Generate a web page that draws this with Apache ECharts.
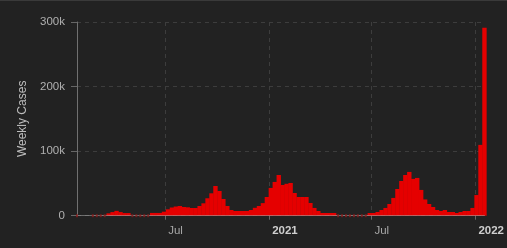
<!DOCTYPE html>
<html>
<head>
<meta charset="utf-8">
<script src="https://cdn.jsdelivr.net/npm/echarts@6/dist/echarts.min.js"></script>
<style>
html,body{margin:0;padding:0;background:#222222;}
#c{width:507px;height:248px;}
#topline{position:absolute;left:0;top:0;width:507px;height:1px;background:#3a3a3a;}
</style>
</head>
<body>
<div id="c"></div>
<div id="topline"></div>
<script>
// Weekly case counts (thousands), one bar per week starting at firstWeek
const firstWeek = Date.UTC(2020, 0, 27);
const weeklyCasesK = [
  0, null, null, null, 0, 0, 0, 0, 3.7, 5.6,
  7.5, 5.6, 4.1, 4.1, 0, 0, 0, 0, 0, 4.3,
  4.3, 4.3, 6.2, 9.9, 12.7, 14.2, 15.0, 13.5, 13.0, 11.9,
  11.9, 15.0, 19.2, 27.0, 34.7, 46.0, 38.3, 25.9, 15.0, 8.8,
  7.3, 7.3, 7.3, 7.3, 8.8, 12.2, 15.0, 19.5, 29.0, 43.0,
  52.3, 63.0, 47.6, 49.4, 50.7, 35.2, 29.0, 29.0, 29.0, 19.7,
  12.0, 7.3, 4.2, 4.2, 4.2, 4.2, 0, 0, 0, 0,
  0, 0, 0, 0, 4.2, 4.2, 5.7, 8.8, 12.0, 18.1,
  27.5, 41.4, 53.8, 63.0, 67.8, 57.0, 58.5, 39.9, 25.2, 18.1,
  13.5, 8.8, 7.3, 8.8, 5.7, 5.7, 4.2, 5.7, 7.3, 7.3,
  12.0, 32.0, 109.7, 291.0
];
const xTickDates = [Date.UTC(2020, 6, 1), Date.UTC(2021, 0, 1), Date.UTC(2021, 6, 1), Date.UTC(2022, 0, 1)];
const yTickValues = [0, 100000, 200000, 300000];
const monthNames = ['Jan','Feb','Mar','Apr','May','Jun','Jul','Aug','Sep','Oct','Nov','Dec'];
const yAxisTitle = 'Weekly Cases';

const WEEK = 7 * 24 * 3600 * 1000;
const weekDates = weeklyCasesK.map((_, i) => firstWeek + i * WEEK);
const barData = weekDates.map((d, i) => [d, weeklyCasesK[i] == null ? null : weeklyCasesK[i] * 1000]);
const zeroData = weekDates.filter((d, i) => weeklyCasesK[i] === 0).map(d => [d, 0]);

const chart = echarts.init(document.getElementById('c'), null, {renderer: 'canvas'});
const fontFamily = '"Liberation Sans", Arial, sans-serif';
chart.setOption({
  backgroundColor: '#222222',
  animation: false,
  textStyle: {fontFamily: fontFamily},
  grid: {left: 77, right: 21, top: 22, bottom: 32.3, containLabel: false},
  xAxis: [{
    type: 'value',
    position: 'bottom',
    min: weekDates[0],
    max: weekDates[weekDates.length - 1],
    scale: true,
    axisLine: {show: false},
    axisTick: {show: true, length: 4, lineStyle: {color: '#666666'}, customValues: xTickDates},
    splitLine: {show: true, lineStyle: {color: '#3d3d3d', type: [4, 4], width: 1}},
    axisLabel: {
      show: true,
      customValues: xTickDates,
      align: 'left',
      margin: 9,
      padding: [0, 0, 0, 3],
      fontSize: 11.5,
      fontFamily: fontFamily,
      color: '#a8a8a8',
      showMinLabel: true,
      showMaxLabel: true,
      hideOverlap: false,
      formatter: function (v) {
        const d = new Date(v);
        if (d.getUTCMonth() === 0) return '{y|' + d.getUTCFullYear() + '}';
        return '{m|' + monthNames[d.getUTCMonth()] + '}';
      },
      rich: {
        y: {fontSize: 11.5, fontWeight: 'bold', color: '#cfcfcf', fontFamily: fontFamily},
        m: {fontSize: 11.5, color: '#a8a8a8', fontFamily: fontFamily}
      }
    }
  }, {
    type: 'value',
    position: 'bottom',
    min: weekDates[0],
    max: weekDates[weekDates.length - 1],
    scale: true,
    z: 10,
    axisLine: {show: true, onZero: false, lineStyle: {color: 'rgba(200,200,200,0.45)', width: 1}},
    axisTick: {show: false},
    axisLabel: {show: false},
    splitLine: {show: false}
  }],
  yAxis: {
    type: 'value',
    min: yTickValues[0],
    max: yTickValues[yTickValues.length - 1],
    interval: yTickValues[1] - yTickValues[0],
    name: yAxisTitle,
    nameLocation: 'middle',
    nameGap: 45,
    nameTextStyle: {color: '#bdbdbd', fontSize: 12, fontFamily: fontFamily},
    axisLine: {show: true, lineStyle: {color: '#707070'}},
    axisTick: {show: true, length: 6, lineStyle: {color: '#666666'}},
    splitLine: {show: true, lineStyle: {color: '#3d3d3d', type: [4, 4], width: 1}},
    axisLabel: {
      color: '#b0b0b0',
      fontSize: 11.5,
      margin: 12,
      fontFamily: fontFamily,
      formatter: function (v) { return v === 0 ? '0' : (v / 1000) + 'k'; }
    }
  },
  series: [{
    type: 'scatter',
    xAxisIndex: 0,
    data: zeroData,
    symbol: 'rect',
    symbolSize: [2, 3],
    itemStyle: {color: '#8a1c1c'},
    clip: false,
    silent: true,
    z: 12
  }, {
    type: 'bar',
    xAxisIndex: 0,
    data: barData,
    barWidth: 4.4,
    clip: false,
    itemStyle: {color: '#e50000', borderWidth: 0, opacity: 1},
    silent: true,
    z: 2
  }]
});
</script>
</body>
</html>
